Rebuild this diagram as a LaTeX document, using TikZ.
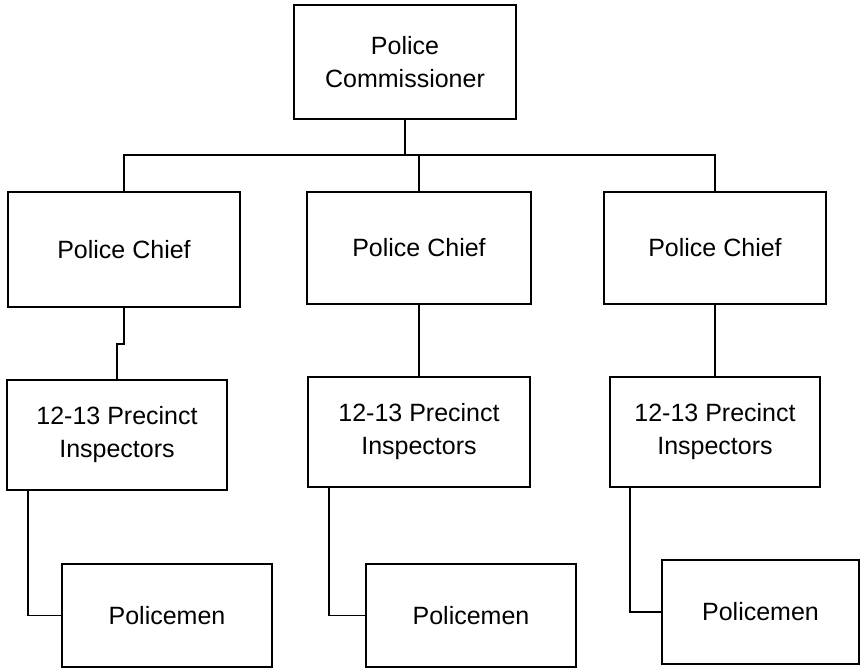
\documentclass[tikz,border=0pt]{standalone}
\usepackage{fontspec}
\setmainfont{Liberation Sans}
\usetikzlibrary{positioning}

\begin{document}
\begin{tikzpicture}[x=1pt,y=-1pt]
          \tikzset{Box/.style = {draw, line width=1.6pt, align=center, inner sep=0pt,
                   font=\fontsize{25}{33}\selectfont}}
          \tikzset{Link/.style = {line width=1.6pt}}
          \useasboundingbox (0,0) rectangle (861,668);

          \node[Box, minimum width=222pt, minimum height=114pt] (comm) at (405,62) {Police\\Commissioner};

          \node[Box, minimum width=232pt, minimum height=115pt] (chiefA) at (124,249.5) {Police Chief};
          \node[Box, minimum width=224pt, minimum height=112pt] (chiefB) at (419,248) {Police Chief};
          \node[Box, minimum width=222pt, minimum height=112pt] (chiefC) at (715,248) {Police Chief};

          \node[Box, minimum width=220pt, minimum height=110pt] (inspA) at (117,435) {12-13 Precinct\\Inspectors};
          \node[Box, minimum width=222pt, minimum height=110pt] (inspB) at (419,432) {12-13 Precinct\\Inspectors};
          \node[Box, minimum width=210pt, minimum height=110pt] (inspC) at (715,432) {12-13 Precinct\\Inspectors};

          \node[Box, minimum width=210pt, minimum height=103pt] (copsA) at (167,615.5) {Policemen};
          \node[Box, minimum width=210pt, minimum height=103pt] (copsB) at (471,615.5) {Policemen};
          \node[Box, minimum width=197pt, minimum height=104pt] (copsC) at (760.5,612) {Policemen};

          \coordinate (bus) at (405,155);
          \draw[Link] (comm) -- (bus);
          \draw[Link] (chiefA.north) -- (chiefA.north |- bus) -- (chiefC.north |- bus) -- (chiefC.north);
          \draw[Link] (chiefB.north) -- (chiefB.north |- bus);

          \draw[Link] (chiefA.south) -- ++(0,36) -| (inspA.north);
          \draw[Link] (chiefB) -- (inspB);
          \draw[Link] (chiefC) -- (inspC);

          \draw[Link] ([xshift=22pt]inspA.south west) |- (copsA.west);
          \draw[Link] ([xshift=22pt]inspB.south west) |- (copsB.west);
          \draw[Link] ([xshift=21pt]inspC.south west) |- (copsC.west);
        \end{tikzpicture}
\end{document}
